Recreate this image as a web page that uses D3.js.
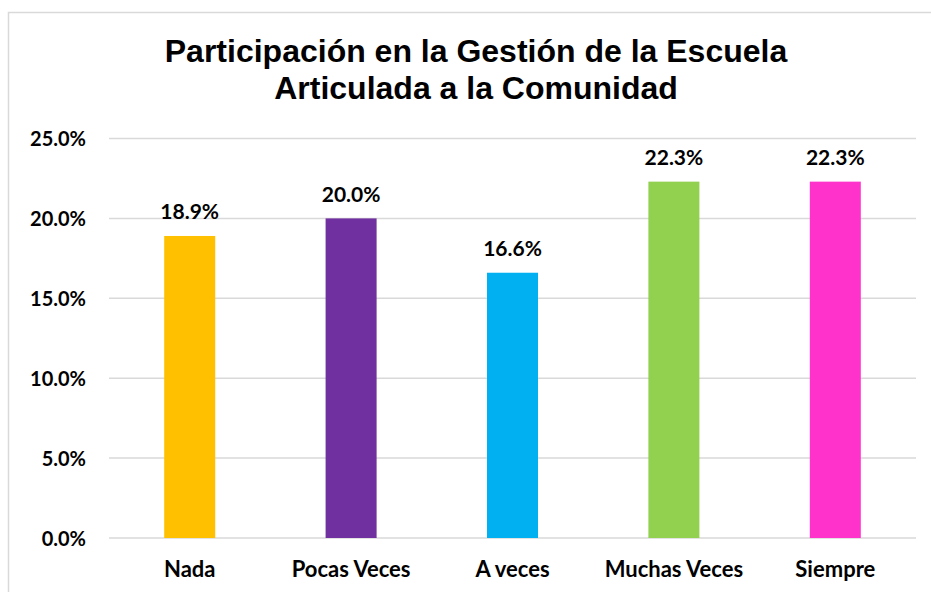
<!DOCTYPE html>
<html>
<head>
<meta charset="utf-8">
<script src="https://cdn.jsdelivr.net/npm/d3@7"></script>
<style>
  html, body { margin: 0; padding: 0; background: #fff; }
  svg { display: block; }
</style>
</head>
<body>
<svg id="chart" width="931" height="592"></svg>
<script>
const titleLines = ["Participación en la Gestión de la Escuela", "Articulada a la Comunidad"];
const categories = ["Nada", "Pocas Veces", "A veces", "Muchas Veces", "Siempre"];
const values = [18.9, 20.0, 16.6, 22.3, 22.3];
const colors = ["#FFC000", "#7030A0", "#00B0F0", "#92D050", "#FF33CC"];
const yTicks = [0, 5, 10, 15, 20, 25];

(function () {
const svg = d3.select("#chart");
const W = 931, H = 592;
const mLeft = 109, mRight = 916, mTop = 138.5, mBottom = 538;

// chart frame
svg.append("rect")
  .attr("x", 8.5).attr("y", 12.5)
  .attr("width", W + 10).attr("height", H + 10)
  .attr("fill", "#fff").attr("stroke", "#d9d9d9").attr("stroke-width", 1.5);

// title
svg.append("g").selectAll("text").data(titleLines).join("text")
  .attr("x", 476).attr("y", (d, i) => 62 + i * 37)
  .attr("text-anchor", "middle")
  .attr("font-family", "'Liberation Sans', Arial, sans-serif")
  .attr("font-weight", "bold").attr("font-size", 32)
  .attr("fill", "#000")
  .text(d => d);

const x = d3.scaleBand().domain(categories).range([mLeft, mRight])
  .paddingInner(0.684).paddingOuter(0.342);
const y = d3.scaleLinear().domain([0, 25]).range([mBottom, mTop]);

const font = "Lato, 'Open Sans', sans-serif";

// gridlines
svg.append("g").selectAll("line").data(yTicks).join("line")
  .attr("x1", mLeft).attr("x2", mRight)
  .attr("y1", d => y(d)).attr("y2", d => y(d))
  .attr("stroke", "#d9d9d9").attr("stroke-width", 1.5);

// y axis labels
const yAxis = d3.axisLeft(y).tickValues(yTicks).tickFormat(d => d.toFixed(1) + "%").tickSize(0).tickPadding(0);
const gy = svg.append("g").attr("transform", `translate(86,0)`).call(yAxis);
gy.select(".domain").remove();
gy.selectAll("text")
  .attr("font-family", font).attr("font-weight", "bold").attr("font-size", 20)
  .attr("fill", "#000").attr("dy", "0.35em");

// bars
svg.append("g").selectAll("rect").data(values).join("rect")
  .attr("x", (d, i) => x(categories[i]))
  .attr("y", d => y(d))
  .attr("width", x.bandwidth())
  .attr("height", d => y(0) - y(d))
  .attr("fill", (d, i) => colors[i]);

// data labels
svg.append("g").selectAll("text").data(values).join("text")
  .attr("x", (d, i) => x(categories[i]) + x.bandwidth() / 2)
  .attr("y", d => y(d) - 16.5)
  .attr("text-anchor", "middle")
  .attr("font-family", font).attr("font-weight", "bold").attr("font-size", 21)
  .attr("fill", "#000")
  .text(d => d.toFixed(1) + "%");

// x axis labels
const xAxis = d3.axisBottom(x).tickSize(0).tickPadding(0);
const gx = svg.append("g").attr("transform", `translate(0,${mBottom})`).call(xAxis);
gx.select(".domain").remove();
gx.selectAll("text")
  .attr("font-family", font).attr("font-weight", "bold").attr("font-size", 22)
  .attr("fill", "#000").attr("dy", null).attr("y", 39);
})();
</script>
</body>
</html>
